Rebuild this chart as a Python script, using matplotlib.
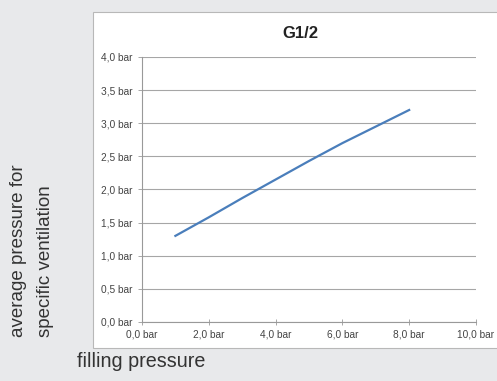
import matplotlib
matplotlib.use("Agg")
import matplotlib.pyplot as plt
from matplotlib.patches import Rectangle

plt.rcParams['font.family'] = ['Liberation Sans Narrow', 'Liberation Sans', 'DejaVu Sans']

# data
filling = [1, 2, 3, 4, 5, 6, 7, 8]
avg_pressure = [1.3, 1.58, 1.87, 2.15, 2.43, 2.7, 2.95, 3.2]
x_ticks = [0, 2, 4, 6, 8, 10]
y_ticks = [0.0, 0.5, 1.0, 1.5, 2.0, 2.5, 3.0, 3.5, 4.0]

fig = plt.figure(figsize=(4.97, 3.81), dpi=100)
fig.patch.set_facecolor('#e8e9eb')

# white chart panel
fig.patches.append(Rectangle((0.187, 0.0866), 0.82, 0.882, transform=fig.transFigure,
                             facecolor='white', edgecolor='#b8b8b8', linewidth=0.8, zorder=0))

ax = fig.add_axes([0.2857, 0.1549, 0.672, 0.6955])
ax.set_zorder(2)
ax.set_facecolor('white')
ax.plot(filling, avg_pressure, color='#4a7ebb', linewidth=1.6, zorder=3)

ax.set_xlim(0, 10)
ax.set_ylim(0, 4)
ax.set_xticks(x_ticks)
ax.set_yticks(y_ticks)
ax.set_xticklabels([f'{v:.1f} bar'.replace('.', ',') for v in x_ticks])
ax.set_yticklabels([f'{v:.1f} bar'.replace('.', ',') for v in y_ticks])
ax.tick_params(labelsize=7.3, colors='#444444', length=3, width=0.6, color='#999999')
ax.tick_params(axis='x', direction='inout', length=4)
ax.yaxis.grid(True, color='#a6a6a6', linewidth=0.8)
for s in ['top', 'right']:
    ax.spines[s].set_visible(False)
for s in ['left', 'bottom']:
    ax.spines[s].set_color('#999999')
    ax.spines[s].set_linewidth(0.8)

fig.text(0.604, 0.913, 'G1/2', ha='center', va='center', fontsize=12,
         fontweight='bold', color='#222222')

fig.text(0.064, 0.115, 'average pressure for\nspecific ventilation', rotation=90,
         ha='center', va='bottom', multialignment='left', fontsize=13.5,
         color='#333333', linespacing=1.75)
fig.text(0.155, 0.05, 'filling pressure', ha='left', va='center',
         fontsize=14.2, color='#333333')

fig.savefig('out.png', dpi=100, facecolor=fig.get_facecolor())
